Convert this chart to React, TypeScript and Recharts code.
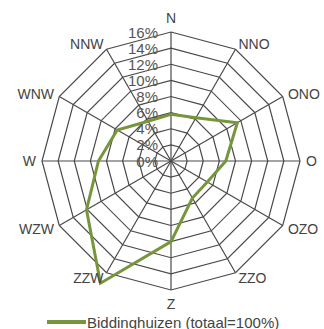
import React from 'react';
import { RadarChart, Radar, PolarGrid, PolarAngleAxis, PolarRadiusAxis, Legend } from 'recharts';

const DIRECTIONS = ['N', 'NNO', 'ONO', 'O', 'OZO', 'ZZO', 'Z', 'ZZW', 'WZW', 'W', 'WNW', 'NNW'];
const BIDDINGHUIZEN = [5.8, 6.2, 9.5, 6.8, 5.2, 5.3, 10.0, 17.5, 12.1, 9.0, 7.7, 5.7];
const RADIUS_TICKS = [0, 2, 4, 6, 8, 10, 12, 14, 16];
const SERIES_NAME = 'Biddinghuizen (totaal=100%)';

const data = DIRECTIONS.map((d, i) => ({ dir: d, value: BIDDINGHUIZEN[i] }));

const CX = 171;
const CY = 161;
const R = 129;
const FONT = '"Liberation Sans", Arial, sans-serif';
const GREEN = '#77953A';

const AngleTick = (props: any) => {
  const { x, y, payload } = props;
  const dx = x - CX;
  const dy = y - CY;
  const dist = Math.sqrt(dx * dx + dy * dy) || 1;
  const ux = dx / dist;
  const uy = dy / dist;
  let r = R + 6;
  let anchor: 'start' | 'end' | 'middle' = 'middle';
  if (Math.abs(ux) < 0.01) {
    r = R + 14;
  } else if (ux > 0) {
    anchor = 'start';
  } else {
    anchor = 'end';
  }
  const tx = CX + ux * r;
  const ty = CY + uy * r;
  return (
    <text x={tx} y={ty} textAnchor={anchor} dominantBaseline="central" fontSize={14} fontFamily={FONT} fill="#444">
      {payload.value}
    </text>
  );
};

const RadiusTick = (props: any) => {
  const { x, y, payload } = props;
  return (
    <text x={x - 13} y={y} textAnchor="end" dominantBaseline="central" fontSize={15} fontFamily={FONT} fill="#555">
      {`${payload.value}%`}
    </text>
  );
};

const LegendContent = () => (
  <svg width={324} height={16}>
    <line x1={47} y1={8} x2={86} y2={8} stroke={GREEN} strokeWidth={4} />
    <text x={87} y={8} dominantBaseline="central" fontSize={15} fontFamily={FONT} fill="#444">
      {SERIES_NAME}
    </text>
  </svg>
);

export default function App() {
  return (
    <div style={{ position: 'absolute', left: 0, top: 0, width: 324, height: 329, background: '#fff' }}>
      <RadarChart width={324} height={329} data={data} cx={CX} cy={CY} outerRadius={R} margin={{ top: 0, right: 0, bottom: 0, left: 0 }}>
        <PolarGrid gridType="polygon" stroke="#4a4a4a" strokeWidth={1.2} />
        <PolarAngleAxis dataKey="dir" tick={AngleTick} tickLine={false} axisLine={false} />
        <PolarRadiusAxis
          angle={90}
          domain={[0, 16]}
          ticks={RADIUS_TICKS}
          tickCount={9}
          allowDataOverflow
          axisLine={false}
          tickLine={false}
          tick={RadiusTick}
        />
        <Radar
          name={SERIES_NAME}
          dataKey="value"
          stroke={GREEN}
          strokeWidth={3}
          fill="none"
          fillOpacity={0}
          dot={false}
          isAnimationActive={false}
        />
        <Legend
          content={LegendContent}
          wrapperStyle={{ position: 'absolute', left: 0, top: 314, width: 324, height: 16 }}
        />
      </RadarChart>
    </div>
  );
}
